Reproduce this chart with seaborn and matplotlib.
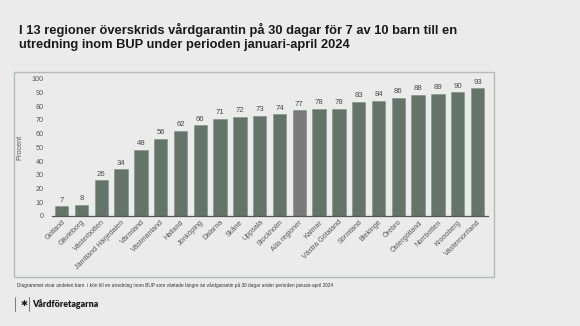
import matplotlib
matplotlib.use("Agg")
import matplotlib.pyplot as plt
import seaborn as sns
from matplotlib.patches import Rectangle
from matplotlib.lines import Line2D

regions = ["Gotland", "Gävleborg", "Västerbotten", "Jämtland Härjedalen", "Värmland",
           "Västmanland", "Halland", "Jönköping", "Dalarna", "Skåne", "Uppsala",
           "Stockholm", "Alla regioner", "Kalmar", "Västra Götaland", "Sörmland",
           "Blekinge", "Örebro", "Östergötland", "Norrbotten", "Kronoberg", "Västernorrland"]
values = [7, 8, 26, 34, 48, 56, 62, 66, 71, 72, 73, 74, 77, 78, 78, 83, 84, 86, 88, 89, 90, 93]
yticks = list(range(0, 101, 10))

title = ("I 13 regioner överskrids vårdgarantin på 30 dagar för 7 av 10 barn till en\n"
         "utredning inom BUP under perioden januari-april 2024")
footnote = ("Diagrammet visar andelen barn  i kön till en utredning inom BUP som väntade längre än "
            "vårdgarantin på 30 dagar under perioden januari-april 2024")

BG = "#ebebeb"
GREEN = "#637669"
GREY = "#7a7a7a"
palette = {r: (GREY if r == "Alla regioner" else GREEN) for r in regions}

sns.set_theme(style="white")
plt.rcParams['font.family'] = ['Liberation Sans', 'DejaVu Sans']

fig = plt.figure(figsize=(5.8, 3.26), dpi=100, facecolor=BG)
ax = fig.add_axes([52/580, 110/326, 436/580, (216-78.7)/326])
ax.set_facecolor(BG)

sns.barplot(x=regions, y=values, hue=regions, palette=palette, legend=False,
            width=0.67, ax=ax, edgecolor="#7f9084", linewidth=0.4)

for c in ax.containers:
    ax.bar_label(c, fmt="%d", padding=2, fontsize=5.6, color="#4a4a4a")

ax.set_xlim(-0.49, 21.53)
ax.set_ylim(0, 100)
ax.set_yticks(yticks)
ax.tick_params(axis="y", length=0, pad=6, labelsize=5.2, labelcolor="#595959")
ax.tick_params(axis="x", length=0, pad=2, labelsize=5.2, labelcolor="#595959")
plt.setp(ax.get_xticklabels(), rotation=45, ha="right", rotation_mode="anchor")
ax.set_ylabel("Procent", fontsize=5.3, color="#595959", labelpad=6)
ax.set_xlabel("")
for s in ["top", "right", "left"]:
    ax.spines[s].set_visible(False)
ax.spines["bottom"].set_color("#555555")
ax.spines["bottom"].set_linewidth(0.9)

# chart frame
fig.patches.append(Rectangle((14/580, (326-277)/326), 480/580, 205/326,
                             transform=fig.transFigure, fill=False,
                             edgecolor="#b4bcb7", linewidth=1.0))

fig.text(19/580, 1-22.5/326, title, fontsize=9.3, fontweight="bold", color="#1a1a1a",
         va="top", ha="left", linespacing=1.3)
fig.text(17/580, 1-285/326, footnote, fontsize=3.45, color="#333333", va="center", ha="left")

# logo
fig.lines.append(Line2D([15/580, 15/580], [1-297/326, 1-311/326], transform=fig.transFigure,
                        color="#666666", linewidth=0.6))
fig.text(20/580, 1-304/326, "✱", fontsize=6, color="#1a1a1a", va="center", ha="left",
         family=["DejaVu Sans"])
fig.lines.append(Line2D([29/580, 29/580], [1-297/326, 1-311/326], transform=fig.transFigure,
                        color="#666666", linewidth=0.6))
fig.text(32/580, 1-304/326, "Vårdföretagarna", fontsize=6.4, fontweight="heavy", color="#1a1a1a",
         va="center", ha="left", family=["Lato", "DejaVu Sans"])

fig.savefig("out.png", dpi=100, facecolor=BG)
